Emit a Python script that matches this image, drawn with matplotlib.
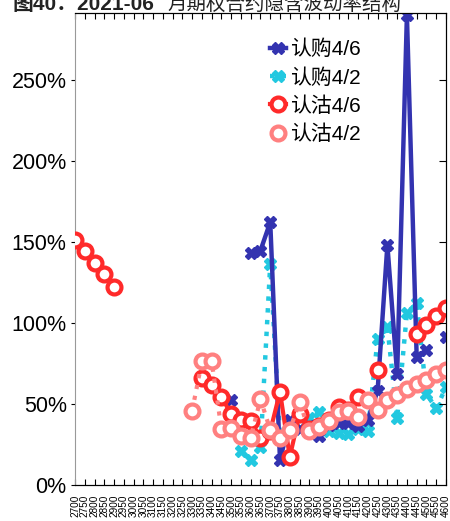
import matplotlib.pyplot as plt
import numpy as np

plt.rcParams['font.family'] = ['Liberation Sans', 'Noto Sans CJK SC', 'DejaVu Sans']

nan = np.nan
strikes = [str(s) for s in range(2700, 4650, 50)]

# 认购4/6
call_46 = [nan, nan, nan, nan, nan, nan, nan, nan, nan, nan,
           nan, nan, nan, nan, nan, nan, 0.52, nan, 1.43, 1.445,
           1.62, 0.15, 0.40, 0.34, 0.36, 0.30, 0.37, 0.38, 0.38, 0.36,
           0.40, 0.58, 1.48, 0.68, 2.90, 0.79, 0.83, nan, 0.91]
# 认购4/2
call_42 = [nan, nan, nan, nan, nan, nan, nan, nan, nan, nan,
           nan, nan, nan, nan, nan, nan, nan, 0.21, 0.15, 0.23,
           1.36, 0.30, 0.38, 0.34, 0.41, 0.45, 0.33, 0.32, 0.31, 0.34,
           0.33, 0.90, 0.975, 0.41, 1.06, 1.12, 0.56, 0.47, 0.60]
# 认沽4/6
put_46 = [1.51, 1.44, 1.37, 1.30, 1.22, nan, nan, nan, nan, nan,
          nan, nan, nan, 0.656, 0.615, 0.54, 0.435, 0.40, 0.39, 0.29,
          0.33, 0.573, 0.17, 0.435, 0.34, 0.36, 0.40, 0.48, 0.46, 0.54,
          nan, 0.71, nan, nan, nan, 0.93, 0.985, 1.04, 1.09]
# 认沽4/2
put_42 = [nan, nan, nan, nan, nan, nan, nan, nan, nan, nan,
          nan, nan, 0.456, 0.76, 0.76, 0.343, 0.347, 0.30, 0.29, 0.527,
          0.337, 0.29, 0.337, 0.51, 0.33, 0.357, 0.39, 0.45, 0.456, 0.42,
          0.52, 0.46, 0.52, 0.55, 0.59, 0.62, 0.645, 0.68, 0.71]

x = np.arange(len(strikes))

fig = plt.figure(figsize=(4.5, 5.21), dpi=100)
ax = fig.add_axes([0.1667, 0.070, 0.8243, 0.9045])

ax.plot(x, call_46, '-', color='#3333b0', lw=3.2, marker='X', ms=9,
        mec='#3333b0', mfc='#3333b0', label='认购4/6', zorder=3)
ax.plot(x, call_42, ':', color='#22c8e0', lw=3.2, marker='X', ms=9,
        mec='#22c8e0', mfc='#22c8e0', label='认购4/2', zorder=2)
ax.plot(x, put_46, '-', color='#ff2a2a', lw=3, marker='o', ms=10,
        mec='#ff2a2a', mfc='white', mew=3, label='认沽4/6', zorder=4)
ax.plot(x, put_42, ':', color='#ff8080', lw=3, marker='o', ms=10,
        mec='#ff8080', mfc='white', mew=3, label='认沽4/2', zorder=5)

ax.set_xlim(0, len(strikes) - 1)
ax.set_ylim(0, 2.91)
ax.set_xticks(x)
ax.set_xticklabels(strikes, rotation=90, fontsize=7.2)
ax.set_yticks([0, 0.5, 1.0, 1.5, 2.0, 2.5])
ax.set_yticklabels(['0%', '50%', '100%', '150%', '200%', '250%'], fontsize=15.5)

ax.tick_params(axis='x', direction='in', top=True, length=4, pad=7)
ax.tick_params(axis='y', direction='out', length=3, right=False, pad=3)
ax.spines['left'].set_color('#999999')
for s in ['top', 'right', 'bottom']:
    ax.spines[s].set_color('black')

# right side inward ticks
ax2 = ax.twinx()
ax2.set_ylim(ax.get_ylim())
ax2.set_yticks([0.5, 1.0, 1.5, 2.0, 2.5])
ax2.tick_params(axis='y', direction='in', length=5, labelright=False)
ax2.spines['left'].set_visible(False)

leg = ax.legend(loc='upper left', bbox_to_anchor=(0.485, 0.975), frameon=False,
                handlelength=0.8, handletextpad=0.2,
                labelspacing=0.42, borderpad=0.2,
                prop={'family': ['Liberation Sans', 'Noto Sans CJK SC'], 'size': 15})

fig.text(13 / 450, 1 - 10 / 521, '图40：2021-06', fontsize=15, fontweight='bold',
         va='baseline', ha='left', color='#222222',
         family=['Liberation Sans', 'Noto Sans CJK SC'])
fig.text(167 / 450, 1 - 10 / 521, '月期权合约隐含波动率结构', fontsize=14,
         va='baseline', ha='left', color='#222222',
         family=['Noto Sans CJK SC'])

fig.savefig('out.png', dpi=100)
